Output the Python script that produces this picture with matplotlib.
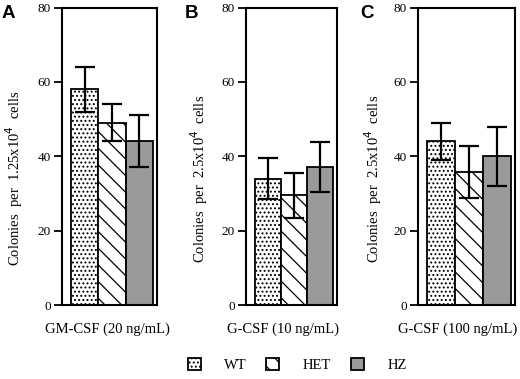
import matplotlib
matplotlib.use("Agg")
import matplotlib.pyplot as plt
import numpy as np

plt.rcParams['font.family'] = 'Liberation Serif'
plt.rcParams['hatch.linewidth'] = 0.9

genotypes = ["WT", "HET", "HZ"]
panels = ["A", "B", "C"]
conditions = ["GM-CSF (20 ng/mL)", "G-CSF (10 ng/mL)", "G-CSF (100 ng/mL)"]
ylabels = ["Colonies  per  1.25x10$^4$  cells",
           "Colonies  per  2.5x10$^4$  cells",
           "Colonies  per  2.5x10$^4$  cells"]

# colony means and error per panel (WT, HET, HZ)
means_a = [58, 49, 44]
err_a = [6, 5, 7]
means_b = [34, 29.5, 37]
err_b = [5.5, 6, 6.7]
means_c = [44, 35.7, 40]
err_c = [5, 7, 8]

means = [means_a, means_b, means_c]
errs = [err_a, err_b, err_c]

hatches = ["....", "\\\\", ""]
fills = ["white", "white", "#9a9a9a"]

fig = plt.figure(figsize=(5.2, 3.79), dpi=100)

# axes boxes in pixels: left, right
boxes = [(62, 157), (246, 337), (418, 515)]
top_px, bot_px = 7.5, 305
ylab_x = [-0.39, -0.40, -0.35]
xlab_x = [0.48, 0.41, 0.405]
letter_x = [2, 185, 360]

handles = None
for i in range(3):
    l, r = boxes[i]
    ax = fig.add_axes([l / 520, (379 - bot_px) / 379, (r - l) / 520,
                       (bot_px - top_px) / 379])
    x = np.arange(3)
    bars = ax.bar(x, means[i], width=1.0, color=fills, edgecolor="black",
                  linewidth=1.3, hatch=hatches, zorder=2)
    ax.errorbar(x, means[i], yerr=errs[i], fmt="none", ecolor="black",
                elinewidth=1.6, capsize=7, capthick=1.6, zorder=3)
    if handles is None:
        handles = bars
    ax.set_xlim(-0.83, 2.65)
    ax.set_ylim(0, 80)
    ax.set_yticks([0, 20, 40, 60, 80])
    ax.set_xticks([])
    for s in ax.spines.values():
        s.set_linewidth(1.5)
    ax.tick_params(axis="y", direction="out", length=6, width=1.3,
                   labelsize=9.5, pad=2)
    ax.set_xlabel(conditions[i], fontsize=10.5)
    ax.xaxis.set_label_coords(xlab_x[i], -0.06)
    ax.set_ylabel(ylabels[i], fontsize=10.5)
    ax.yaxis.set_label_coords(ylab_x[i], 0.425)
    fig.text(letter_x[i] / 520, 1 - 5 / 379, panels[i], fontsize=13.5,
             fontweight="bold", family="Liberation Sans", ha="left", va="top")

fig.legend(handles, genotypes, ncol=3, loc="center",
           bbox_to_anchor=(297 / 520, 1 - 365 / 379), frameon=False,
           fontsize=10.5, handlelength=0.9, handleheight=0.9,
           handletextpad=1.6, columnspacing=1.35)

fig.savefig("out.png", dpi=100)
